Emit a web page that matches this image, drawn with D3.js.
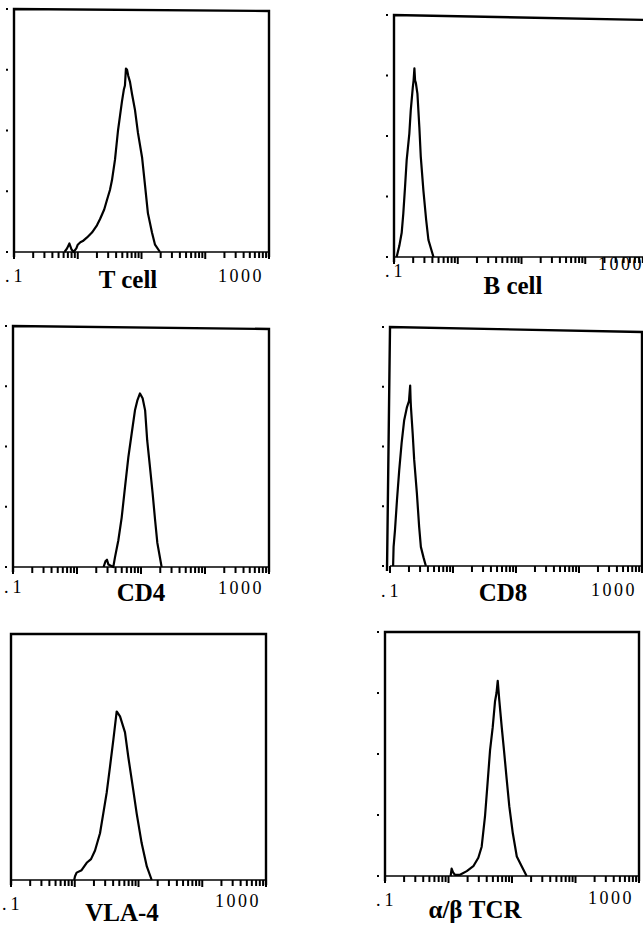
<!DOCTYPE html>
<html>
<head>
<meta charset="utf-8">
<script src="https://cdn.jsdelivr.net/npm/d3@7"></script>
<style>
    body { margin: 0; background: #fff; }
    svg { display: block; }
</style>
</head>
<body>
<div id="chart"></div>
<script>
// histogram data: [fluorescence, cell count]
let tCell = [[0.62,0],[0.68,3],[0.74,7],[0.8,2],[0.86,0],[0.95,3],[1.0,6],[1.1,8],[1.2,9],[1.4,12],[1.67,16],
    [2.0,22],[2.23,27],[2.6,35],[2.88,43],[3.2,51],[3.44,59],[3.84,76],[4.28,100],[4.6,112],[4.94,124],[5.3,134],
    [5.5,137],[5.7,151],[5.93,150],[6.2,145],[6.6,140],[7.1,130],[7.9,117],[8.8,98],[10.2,78],[11.4,54],[12.6,32],
    [14.6,16],[16.3,6],[19.5,0]];
let bCell = [[0.11,0],[0.121,9],[0.132,20],[0.14,36],[0.149,58],[0.158,80],[0.174,102],[0.183,121],[0.197,140],
    [0.203,146],[0.209,156],[0.214,146],[0.22,144],[0.233,135],[0.25,107],[0.263,83],[0.289,55],[0.319,31],
    [0.347,14],[0.416,0]];
let cd4 = [[2.6,0],[2.8,5],[2.94,6],[3.1,2],[3.69,0],[3.92,8],[4.42,22],[4.99,41],[5.62,66],[6.34,91],[7.16,111],
    [8.05,130],[8.75,138],[9.64,144],[10.6,140],[11.6,130],[12.5,105],[13.8,83],[15.2,61],[16.6,39],[18.0,20],
    [21.0,0]];
let cd8 = [[0.112,0],[0.114,16],[0.12,30],[0.129,55],[0.14,80],[0.153,103],[0.168,122],[0.186,133],[0.2,138],
    [0.209,151],[0.212,140],[0.215,133],[0.229,111],[0.242,89],[0.267,61],[0.29,33],[0.309,16],[0.341,7],
    [0.371,0]];
let vla4 = [[0.98,0],[1.01,3],[1.07,6],[1.28,8],[1.54,14],[1.8,17],[2.08,24],[2.49,38],[2.8,54],[3.17,71],
    [3.57,92],[4.03,114],[4.55,137],[5.13,133],[6.14,120],[6.92,100],[8.28,73],[9.37,54],[11.2,30],[13.5,11],
    [16.1,0]];
let abTcr = [[1.08,0],[1.12,6],[1.18,3],[1.26,1],[1.52,1],[1.94,4],[2.46,8],[2.95,15],[3.33,24],[3.76,49],
    [4.08,73],[4.51,103],[4.97,122],[5.4,143],[5.7,150],[5.96,160],[6.31,144],[6.89,122],[7.48,103],[8.26,79],
    [9.07,57],[10.3,35],[11.9,16],[14.2,8],[17.0,0]];

let panelLabels = ["T cell", "B cell", "CD4", "CD8", "VLA-4", "\u03b1/\u03b2 TCR"];
let xTickLabels = [".1", "1000"];
let xDomain = [0.1, 1000];
let yTicks = [0, 50, 100, 150, 200];

drawPanels = function (div) {
    let svg = d3.select("#" + div).append("svg")
        .attr("width", 643)
        .attr("height", 926);

    // box geometry and where the texts sit
    let layout = [
        {data: tCell, x0: 14, x1: 269, y0: 9, y1: 252, tiltR: 2, tiltB: 0, titleX: 128, titleY: 288, lowY: 282, highY: 282, dots: true},
        {data: bCell, x0: 394, x1: 649, y0: 15, y1: 257, tiltR: 5, tiltB: 0, titleX: 513, titleY: 294, lowY: 277, highY: 270, dots: true},
        {data: cd4, x0: 13, x1: 269, y0: 326, y1: 567, tiltR: 3, tiltB: 0, titleX: 141, titleY: 601, lowY: 593, highY: 594, dots: true},
        {data: cd8, x0: 390, x1: 642, y0: 327, y1: 566, tiltR: 5, tiltB: -3, titleX: 503, titleY: 601, lowY: 597, highY: 596, dots: true},
        {data: vla4, x0: 11, x1: 266, y0: 634, y1: 880, tiltR: 0, tiltB: 0, titleX: 122, titleY: 921, lowY: 910, highY: 907, dots: false},
        {data: abTcr, x0: 385, x1: 639, y0: 632, y1: 876, tiltR: 0, tiltB: 0, titleX: 475, titleY: 918, lowY: 906, highY: 904, dots: true}
    ];

    layout.forEach((p, i) => {
        let x = d3.scaleLog().domain(xDomain).range([p.x0, p.x1]);
        let y = d3.scaleLinear().domain([0, 200]).range([p.y1, p.y0]);
        let g = svg.append("g");

        // frame (left, top, right); the bottom is the axis
        g.append("path")
            .attr("d", "M" + (p.x0 + p.tiltB) + "," + (p.y1 + 5) +
                "L" + p.x0 + "," + p.y0 +
                "L" + p.x1 + "," + (p.y0 + p.tiltR) +
                "L" + p.x1 + "," + (p.y1 + 5))
            .attr("fill", "none")
            .attr("stroke", "#000")
            .attr("stroke-width", 2.4);

        // baseline
        g.append("line")
            .attr("x1", p.x0).attr("x2", p.x1)
            .attr("y1", p.y1).attr("y2", p.y1)
            .attr("stroke", "#000")
            .attr("stroke-width", 1.3);

        // log ticks hanging under the baseline
        let ticks = [];
        for (let k = -1; k < 3; k++) {
            for (let m = 1; m < 10; m++) {
                ticks.push(m * Math.pow(10, k));
            }
        }
        ticks.push(1000);
        ticks.forEach(t => {
            let major = Math.abs(Math.log10(t) - Math.round(Math.log10(t))) < 1e-9;
            g.append("line")
                .attr("x1", x(t)).attr("x2", x(t))
                .attr("y1", p.y1)
                .attr("y2", p.y1 + (major ? 7 : 6))
                .attr("stroke", "#000")
                .attr("stroke-width", 2);
        });

        // y tick dots outside the frame
        if (p.dots) {
            yTicks.forEach(v => {
                g.append("line")
                    .attr("x1", p.x0 - 8).attr("x2", p.x0 - 6)
                    .attr("y1", y(v)).attr("y2", y(v))
                    .attr("stroke", "#000")
                    .attr("stroke-width", 2);
            });
        }

        // histogram
        let line = d3.line()
            .x(d => x(d[0]))
            .y(d => y(d[1]));
        g.append("path")
            .datum(p.data)
            .attr("d", line)
            .attr("fill", "none")
            .attr("stroke", "#000")
            .attr("stroke-width", 2.2)
            .attr("stroke-linejoin", "round");

        // tick labels
        g.append("text")
            .attr("x", x(xDomain[0]) - 9)
            .attr("y", p.lowY)
            .attr("font-family", "Liberation Serif, serif")
            .attr("font-size", 18)
            .attr("letter-spacing", 4)
            .text(xTickLabels[0]);
        g.append("text")
            .attr("x", x(xDomain[1]) - 5)
            .attr("y", p.highY)
            .attr("text-anchor", "end")
            .attr("font-family", "Liberation Serif, serif")
            .attr("font-size", 18)
            .attr("letter-spacing", 2.5)
            .text(xTickLabels[1]);

        // panel title
        g.append("text")
            .attr("x", p.titleX)
            .attr("y", p.titleY)
            .attr("text-anchor", "middle")
            .attr("font-family", "Liberation Serif, serif")
            .attr("font-weight", "bold")
            .attr("font-size", 25)
            .text(panelLabels[i]);
    });
};

drawPanels("chart");
</script>
</body>
</html>
